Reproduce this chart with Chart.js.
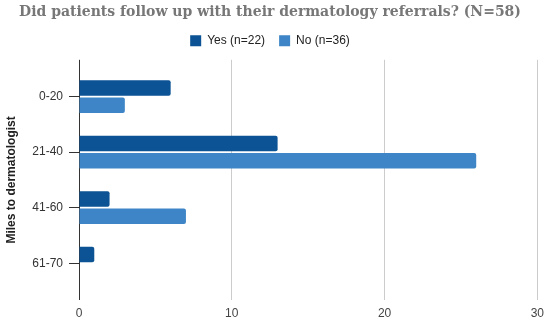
<!DOCTYPE html>
<html><head><meta charset="utf-8">
<script src="https://cdn.jsdelivr.net/npm/chart.js@4/dist/chart.umd.min.js"></script>
<style>html,body{margin:0;padding:0;background:#fff}#w{width:550px;height:324px}</style>
</head><body><div id="w"><canvas id="c"></canvas></div>
<script>
const categories = ["0-20", "21-40", "41-60", "61-70"];
const yesValues = [6, 13, 2, 1];
const noValues = [3, 26, 7, 0];
const seriesLabels = ["Yes (n=22)", "No (n=36)"];
const xTicks = [0, 10, 20, 30];
const titleText = "Did patients follow up with their dermatology referrals? (N=58)";
const yTitle = "Miles to dermatologist";

const gridColor = ctx => (ctx.tick && ctx.tick.value === 0) ? '#333' : '#ccc';

new Chart(document.getElementById('c'), {
  type: 'bar',
  data: {
    labels: categories,
    datasets: [
      {label: seriesLabels[0], data: yesValues, backgroundColor: '#0b5394', borderRadius: 2, borderSkipped: 'start', categoryPercentage: 0.62, barPercentage: 0.9},
      {label: seriesLabels[1], data: noValues, backgroundColor: '#3d85c6', borderRadius: 2, borderSkipped: 'start', categoryPercentage: 0.62, barPercentage: 0.9}
    ]
  },
  options: {
    indexAxis: 'y',
    responsive: true,
    maintainAspectRatio: false,
    animation: false,
    layout: {padding: {left: 0, right: 10, top: 2, bottom: 0}},
    plugins: {
      title: {display: true, text: titleText, color: '#777',
        font: {family: 'DejaVu Serif', size: 14, weight: 'bold'}, padding: {top: 2, bottom: 0}},
      legend: {position: 'top', labels: {boxWidth: 11, boxHeight: 11, color: '#222',
        font: {family: 'Liberation Sans', size: 12}, padding: 14}},
      tooltip: {enabled: false}
    },
    scales: {
      x: {
        min: 0, max: 30,
        afterFit: s => { s.height = 33; },
        afterBuildTicks: s => { s.ticks = xTicks.map(v => ({value: v})); },
        grid: {color: gridColor, tickLength: 9, tickColor: gridColor},
        border: {display: false},
        ticks: {color: '#444', font: {family: 'Liberation Sans', size: 12}, padding: 6}
      },
      x2: {
        position: 'top', min: 0, max: 30,
        afterFit: s => { s.height = 12; },
        afterBuildTicks: s => { s.ticks = xTicks.map(v => ({value: v})); },
        grid: {color: gridColor, tickColor: gridColor, tickLength: 9, drawOnChartArea: false},
        border: {display: false},
        ticks: {display: false}
      },
      y: {
        afterFit: s => { s.width = 79; },
        grid: {offset: false, drawOnChartArea: false, tickLength: 10, tickColor: '#333'},
        border: {display: false},
        ticks: {color: '#333', font: {family: 'Liberation Sans', size: 12}, padding: 6},
        title: {display: true, text: yTitle, color: '#222', font: {family: 'Liberation Sans', size: 12, weight: 'bold'}, padding: 4}
      }
    }
  }
});
</script>
</body></html>
